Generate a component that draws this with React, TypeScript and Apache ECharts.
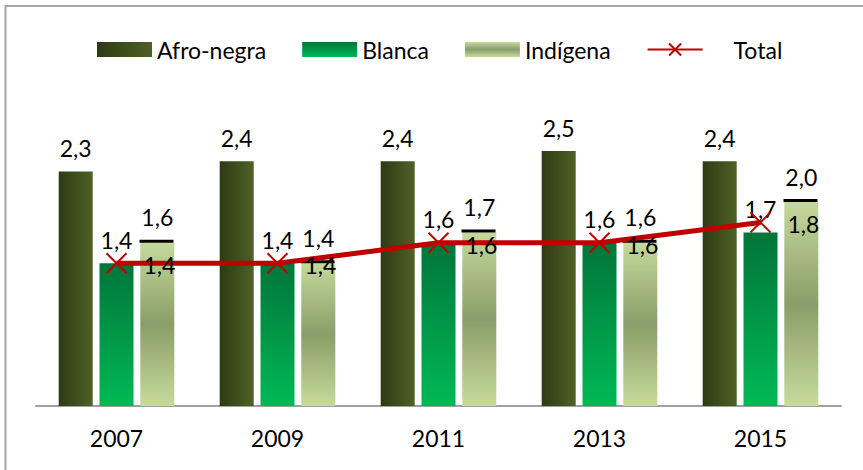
import React, { useEffect, useRef } from 'react';
import * as echarts from 'echarts';

const years = ['2007', '2009', '2011', '2013', '2015'];
const afroNegra = [2.3, 2.4, 2.4, 2.5, 2.4];
const blanca = [1.4, 1.4, 1.6, 1.6, 1.7];
const indigena = [1.6, 1.4, 1.7, 1.6, 2.0];
const total = [1.4, 1.4, 1.6, 1.6, 1.8];

const FONT = 'Lato';
const fmt = (p: any) => Number(p.value).toFixed(1).replace('.', ',');

export default function App() {
  const ref = useRef<HTMLDivElement>(null);
  useEffect(() => {
    document.body.style.margin = '0';
    const chart = echarts.init(ref.current!, null, { renderer: 'svg' });
    const labelStyle = {
      show: true,
      position: 'top' as const,
      distance: 12,
      fontFamily: FONT,
      fontSize: 23,
      color: '#000',
      formatter: fmt,
    };
    chart.setOption({
      animation: false,
      backgroundColor: '#fff',
      textStyle: { fontFamily: FONT },
      graphic: [
        {
          type: 'rect',
          shape: { x: 5.5, y: 6, width: 900, height: 500 },
          style: { fill: 'none', stroke: '#a6a6a6', lineWidth: 2 },
          z: 100,
        },
      ],
      legend: {
        left: 92,
        top: 33,
        itemWidth: 55,
        itemHeight: 15,
        itemGap: 36,
        textStyle: { fontFamily: FONT, fontSize: 23, color: '#000' },
        data: [
          { name: 'Afro-negra', icon: 'rect' },
          { name: 'Blanca', icon: 'rect' },
          { name: 'Indígena', icon: 'rect' },
          { name: 'Total', textStyle: { padding: [0, 0, 0, 26] } },
        ],
      },
      grid: { left: 36, right: 22, top: 100, bottom: 64 },
      xAxis: {
        type: 'category',
        data: years,
        axisLine: { lineStyle: { color: '#a0a0a0', width: 2 } },
        axisTick: { show: false },
        axisLabel: { fontFamily: FONT, fontSize: 23, color: '#000', margin: 20 },
      },
      yAxis: {
        type: 'value',
        min: 0,
        max: 3,
        show: false,
        splitLine: { show: false },
      },
      series: [
        {
          name: 'Afro-negra',
          type: 'bar',
          barWidth: 34,
          barGap: '20%',
          data: afroNegra,
          itemStyle: {
            color: new echarts.graphic.LinearGradient(0, 0, 1, 0, [
              { offset: 0, color: '#2f3a14' },
              { offset: 1, color: '#4e6126' },
            ]),
          },
          label: labelStyle,
        },
        {
          name: 'Blanca',
          type: 'bar',
          barWidth: 34,
          barGap: '20%',
          data: blanca,
          itemStyle: {
            color: new echarts.graphic.LinearGradient(0, 0, 0, 1, [
              { offset: 0, color: '#00753a' },
              { offset: 1, color: '#00b955' },
            ]),
          },
          label: labelStyle,
        },
        {
          name: 'Indígena',
          type: 'bar',
          barWidth: 34,
          barGap: '20%',
          data: indigena,
          itemStyle: {
            color: new echarts.graphic.LinearGradient(0, 0, 0, 1, [
              { offset: 0, color: '#c4d99b' },
              { offset: 0.5, color: '#8a9e69' },
              { offset: 1, color: '#c6db9c' },
            ]),
          },
          label: { ...labelStyle, distance: 14 },
        },
        {
          name: 'IndigenaTop',
          type: 'scatter',
          data: indigena,
          symbol: 'rect',
          symbolSize: [34, 3],
          symbolOffset: [40, -1.5],
          itemStyle: { color: '#000', opacity: 1 },
          silent: true,
          z: 3,
        },
        {
          name: 'Total',
          type: 'line',
          data: total,
          symbol: 'path://M0,0L10,10M10,0L0,10',
          symbolSize: 20,
          showAllSymbol: true,
          lineStyle: { color: '#c00000', width: 5 },
          itemStyle: { color: 'rgba(0,0,0,0)', borderColor: '#c00000', borderWidth: 2 },
          label: {
            show: true,
            position: 'right',
            distance: 16,
            offset: [0, 2],
            fontFamily: FONT,
            fontSize: 23,
            color: '#000',
            formatter: fmt,
          },
          z: 4,
        },
      ],
    });
    return () => chart.dispose();
  }, []);
  return <div ref={ref} style={{ width: 863, height: 470 }} />;
}
